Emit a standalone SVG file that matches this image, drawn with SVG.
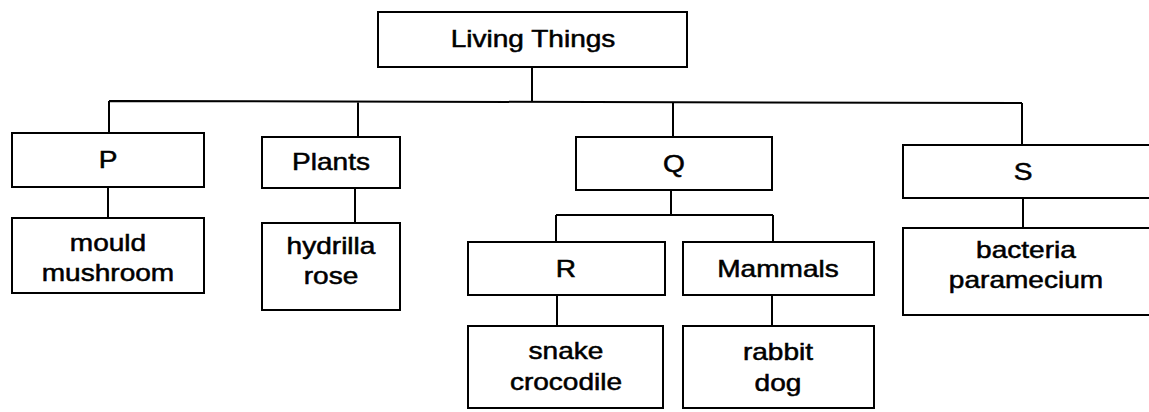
<svg xmlns="http://www.w3.org/2000/svg" width="1149" height="412" viewBox="0 0 1149 412">
<style>
.box{fill:#fff;stroke:#000;stroke-width:2}
.ln{fill:none;stroke:#000;stroke-width:2}
text{font-family:"Liberation Sans",Arial,sans-serif;font-size:23px;fill:#000;text-anchor:middle;stroke:#000;stroke-width:0.5}
</style>
<rect width="1149" height="412" fill="#fff"/>
<g id="connectors">
<path class="ln" d="M532 67V101M109 101L1022 103M109 101V133M358 101V137M673 102V137M1022 103V145M108 187V218M355 188V223M671 190V215M556 215H773M556 215V242M773 215V242M557 295V326M772 295V326M1023 198V228"/>
</g>
<g id="living"><rect class="box" x="378" y="12" width="309" height="55"/><text transform="translate(533,47) scale(1.22,1)">Living Things</text></g>
<g id="P"><rect class="box" x="12" y="133" width="192" height="54"/><text transform="translate(108,168) scale(1.22,1)">P</text></g>
<g id="plants"><rect class="box" x="262" y="137" width="138" height="51"/><text transform="translate(331,170) scale(1.22,1)">Plants</text></g>
<g id="Q"><rect class="box" x="576" y="137" width="196" height="53"/><text transform="translate(674,172) scale(1.22,1)">Q</text></g>
<g id="S"><rect class="box" x="903" y="145" width="260" height="53"/><text transform="translate(1023,180) scale(1.22,1)">S</text></g>
<g id="fungi"><rect class="box" x="12" y="218" width="192" height="75"/><text transform="translate(108,251) scale(1.22,1)">mould</text><text transform="translate(108,281) scale(1.22,1)">mushroom</text></g>
<g id="plantex"><rect class="box" x="262" y="223" width="138" height="87"/><text transform="translate(331,254) scale(1.22,1)">hydrilla</text><text transform="translate(331,284) scale(1.22,1)">rose</text></g>
<g id="R"><rect class="box" x="468" y="242" width="197" height="53"/><text transform="translate(566,277) scale(1.22,1)">R</text></g>
<g id="mammals"><rect class="box" x="683" y="242" width="191" height="53"/><text transform="translate(778,277) scale(1.22,1)">Mammals</text></g>
<g id="protists"><rect class="box" x="903" y="228" width="260" height="87"/><text transform="translate(1026,258) scale(1.22,1)">bacteria</text><text transform="translate(1026,288) scale(1.22,1)">paramecium</text></g>
<g id="reptiles"><rect class="box" x="468" y="326" width="195" height="82"/><text transform="translate(566,359) scale(1.22,1)">snake</text><text transform="translate(566,390) scale(1.22,1)">crocodile</text></g>
<g id="mammalex"><rect class="box" x="683" y="326" width="191" height="82"/><text transform="translate(778,360) scale(1.22,1)">rabbit</text><text transform="translate(778,391) scale(1.22,1)">dog</text></g>
</svg>
